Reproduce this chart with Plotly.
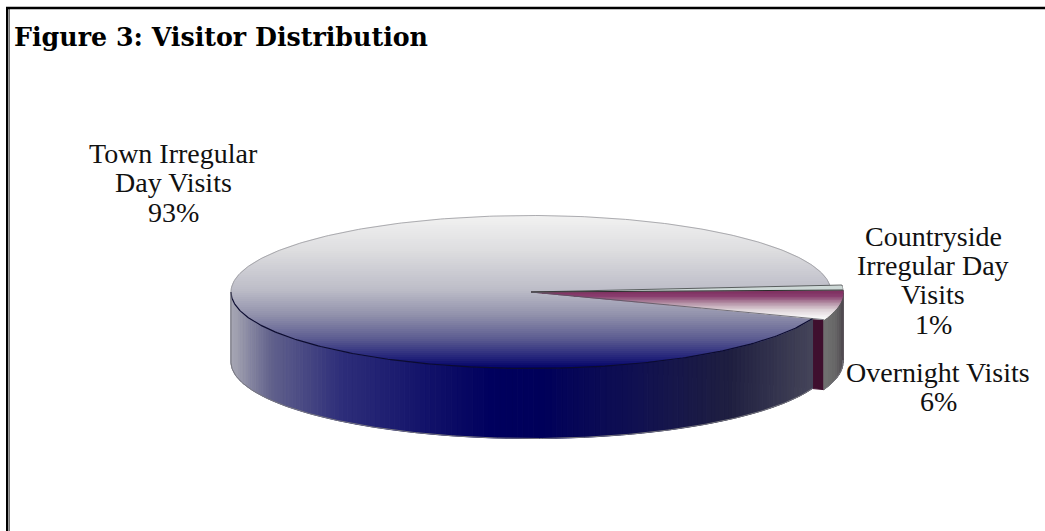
import numpy as np
import plotly.graph_objects as go

# Chart data
title = "Figure 3: Visitor Distribution"
categories = ["Countryside<br>Irregular Day<br>Visits", "Overnight Visits", "Town Irregular<br>Day Visits"]
shares = [1, 6, 93]

# Projection of the tilted disc, in page pixels
CX, CY = 531.0, 292.0
RX, RY = 300.0, 76.5
RX_OUT, RY_OUT = 312.0, 80.0   # the two small slices sit proud of the disc
DEPTH = 70.0
START_DEG = 5.0

# Gradient stops: (position, hex colour)
TOWN_TOP = [(215, "#f2f2f2"), (250, "#dedee0"), (290, "#bdbdc8"), (315, "#9292ac"),
            (340, "#5a5a90"), (358, "#24247a"), (369, "#000066")]
TOWN_WALL = [(231, "#a8a8b4"), (270, "#62628c"), (340, "#2e2e7a"), (420, "#14146a"),
             (490, "#00005e"), (540, "#00005a"), (640, "#111150"), (730, "#1f1f40"), (813, "#46465a")]
OVERNIGHT_TOP = [(289, "#7a2858"), (297, "#8a4070"), (303, "#b08aa0"), (310, "#dcd0d6"), (318, "#f8f8f8"), (322, "#ffffff")]
OVERNIGHT_WALL = [(823, "#727272"), (835, "#666666"), (844, "#4c444c")]
COUNTRY_TOP = "#cdd8d6"
RADIAL_FACE = "#3f0f2e"


def rgb(h):
    return np.array([int(h[i:i + 2], 16) for i in (1, 3, 5)], float)


def ramp(stops, v):
    pos = [s[0] for s in stops]
    cols = np.array([rgb(s[1]) for s in stops])
    c = [np.interp(v, pos, cols[:, k]) for k in range(3)]
    return "rgb(%d,%d,%d)" % tuple(round(x) for x in c)


def rim(t0, t1, rx, ry, n=240):
    t = np.radians(np.linspace(t0, t1, n))
    return CX + rx * np.cos(t), CY - ry * np.sin(t)


def clip_band(px, py, lo, hi):
    """Clip a polygon to the horizontal band lo <= y <= hi."""
    pts = list(zip(px, py))
    for keep, limit in ((lambda y: y >= lo, lo), (lambda y: y <= hi, hi)):
        out = []
        for i, (x0, y0) in enumerate(pts):
            x1, y1 = pts[(i + 1) % len(pts)]
            if keep(y0):
                out.append((x0, y0))
            if keep(y0) != keep(y1):
                f = (limit - y0) / (y1 - y0)
                out.append((x0 + f * (x1 - x0), limit))
        pts = out
        if not pts:
            return [], []
    return [p[0] for p in pts], [p[1] for p in pts]


fig = go.Figure()


def poly(x, y, color, line=1.0, line_color=None):
    fig.add_trace(go.Scatter(
        x=list(x) + [x[0]], y=list(y) + [y[0]], mode="lines", fill="toself", fillcolor=color,
        line=dict(color=line_color or color, width=line), hoverinfo="skip", showlegend=False))


def stroke(x, y, color, width=1.0):
    fig.add_trace(go.Scatter(x=x, y=y, mode="lines", line=dict(color=color, width=width),
                             hoverinfo="skip", showlegend=False))


def gradient_top(px, py, stops, step=2.0):
    y = min(py)
    while y < max(py):
        sx, sy = clip_band(px, py, y, y + step)
        if sx:
            poly(sx, sy, ramp(stops, y + step / 2))
        y += step


def wall_strips(t0, t1, rx, ry, stops, n):
    edges = np.linspace(t0, t1, n + 1)
    for a, b in zip(edges[:-1], edges[1:]):
        x, y = rim(a, b, rx, ry, 6)
        poly(list(x) + list(x[::-1]), list(y) + list(y[::-1] + DEPTH), ramp(stops, x.mean()))


# Slice angles, running clockwise from the start angle
spans = np.array(shares) / sum(shares) * 360.0
c0 = START_DEG
c1 = c0 - spans[0]
o1 = c1 - spans[1]
t1 = o1 - spans[2]

# Cut face of the overnight slice, then the outer walls
lx, ly = rim(o1, o1, RX_OUT, RY_OUT, 1)
poly([CX, lx[0], lx[0], CX], [CY, ly[0], ly[0] + DEPTH, CY + DEPTH], RADIAL_FACE)
wall_strips(c1, o1, RX_OUT, RY_OUT, OVERNIGHT_WALL, 10)
wall_strips(c0, c1, RX_OUT, RY_OUT, OVERNIGHT_WALL, 2)
wall_strips(o1, -180, RX, RY, TOWN_WALL, 150)

# Top faces
tx, ty = rim(o1, t1, RX, RY)
gradient_top([CX] + list(tx), [CY] + list(ty), TOWN_TOP)
ox, oy = rim(c1, o1, RX_OUT, RY_OUT)
gradient_top([CX] + list(ox), [CY] + list(oy), OVERNIGHT_TOP, 1.5)
cx_, cy_ = rim(c0, c1, RX_OUT, RY_OUT, 8)
poly([CX] + list(cx_), [CY] + list(cy_), COUNTRY_TOP, line=0.5)

# Outlines
bx, by = rim(-180, o1, RX, RY)
stroke(bx, by, "#0c0c30", 1.2)
bx, by = rim(t1, -180, RX, RY)
stroke(bx, by, "#9a9aa0", 0.8)
ux, uy = rim(o1, -180, RX, RY)
stroke(ux, uy + DEPTH, "#77777f", 1.0)
stroke([bx[-1], bx[-1]], [by[-1], by[-1] + DEPTH], "#77777f", 1.0)
stroke([CX] + list(cx_[:1]), [CY] + list(cy_[:1]), "#5a5f5f", 1.0)
stroke([CX] + list(cx_[-1:]), [CY] + list(cy_[-1:]), "#2a2a2a", 1.0)
stroke([CX, lx[0]], [CY, ly[0]], "#555560", 0.8)
rx_, ry_ = rim(c1, o1, RX_OUT, RY_OUT, 40)
stroke(rx_, ry_ + DEPTH, "#77777f", 1.0)

# Labels are set line by line so their leading stays tight at this size
LABEL_FONT = dict(family="Liberation Serif", size=28, color="#111111")
label_x = [933, 938, 173]
label_line_y = [[236, 265, 294, 324], [372, 401], [153, 182, 212]]
for name, share, x_, ys in zip(categories, shares, label_x, label_line_y):
    for line, y_ in zip(name.split("<br>") + [f"{share}%"], ys):
        fig.add_annotation(x=x_, y=y_, text=line, showarrow=False, font=LABEL_FONT,
                           xanchor="center", yanchor="middle")

fig.add_annotation(x=12, y=37, text=f"<b>{title}</b>", showarrow=False, xanchor="left", yanchor="middle",
                   font=dict(family="DejaVu Serif", size=25.3, color="#000000"))

# Frame along the left and top of the page
frame = [dict(type="line", x0=9.5, x1=9.5, y0=8, y1=531, line=dict(color="#777777", width=1)),
         dict(type="line", x0=7.2, x1=7.2, y0=7, y1=531, line=dict(color="#000000", width=2.4)),
         dict(type="line", x0=6, x1=1045, y0=8, y1=8, line=dict(color="#000000", width=2.4))]

fig.update_layout(
    width=1045, height=531, margin=dict(l=0, r=0, t=0, b=0), paper_bgcolor="white", plot_bgcolor="white",
    showlegend=False, shapes=frame,
    xaxis=dict(range=[0, 1045], visible=False, fixedrange=True),
    yaxis=dict(range=[531, 0], visible=False, fixedrange=True),
)
fig.write_html("out.html", config=dict(displayModeBar=False))
